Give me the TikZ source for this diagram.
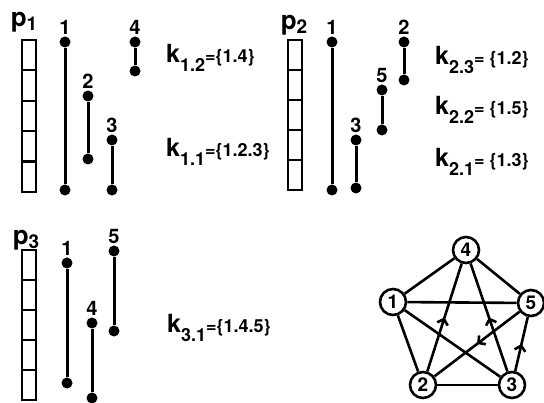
\documentclass[tikz,border=0pt]{standalone}
\usepackage{fontspec}
\setmainfont{TeX Gyre Heros}
\usetikzlibrary{arrows.meta,decorations.markings}
\newcommand\vseg[5]{%
  \node[dot] (#1t) at (#2,#3) {};
  \node[dot] (#1b) at (#2,#4) {};
  \draw[seg] (#1t) -- (#1b);
  \node[num,anchor=south] (#1l) at (#1t.north) {#5};}
\newcommand\klab[3][]{\bfseries{\fontsize{25pt}{25pt}\selectfont k}\raisebox{-9pt}{\fontsize{18pt}{18pt}\selectfont #2}{\fontsize{18pt}{18pt}\selectfont =#1\{#3\}}}
\newcommand\plab[1]{\bfseries{\fontsize{26pt}{26pt}\selectfont p}\raisebox{-4pt}{\fontsize{19pt}{19pt}\selectfont #1}}
\newcommand\memcol[3]{% x, ytop, ybottom
  \draw[mem] (#1,#2) rectangle (#1+14,#3);
  \foreach \i in {1,...,4} {\draw[mem] (#1,{#2+\i*(#3-#2)/5}) -- (#1+14,{#2+\i*(#3-#2)/5});}}
\begin{document}
\begin{tikzpicture}[x=1pt,y=-1pt,
  dot/.style={circle,fill=black,inner sep=0pt,minimum size=11pt},
  seg/.style={line width=3pt},
  num/.style={font=\bfseries\fontsize{20pt}{20pt}\selectfont,inner sep=1.5pt},
  mem/.style={line width=2.2pt},
  gnode/.style={circle,draw,line width=2.6pt,minimum size=26pt,inner sep=0pt,fill=white,font=\bfseries\fontsize{19pt}{19pt}\selectfont},
  gedge/.style={line width=2.6pt},
  midarrow/.style={postaction={decorate},decoration={markings,mark=at position 0.5 with {\arrow{Straight Barb[length=5pt,width=11pt,line width=2.6pt]}}}}]
\useasboundingbox (0,0) rectangle (544,403);
% ---------- p1 ----------
\node[anchor=base] (p1) at (24,27) {\plab{1}};
\memcol{22}{40}{192}
\vseg{aa}{65}{42}{190}{1}
\vseg{ab}{88}{96}{159}{2}
\vseg{ac}{112}{140}{190}{3}
\vseg{ad}{135}{42}{71}{4}
\node[anchor=base west,inner sep=0pt] (k12) at (166,63) {\klab{1.2}{1.4}};
\node[anchor=base west,inner sep=0pt] (k11) at (166,157) {\klab{1.1}{1.2.3}};
% ---------- p2 ----------
\node[anchor=base] (p2) at (294,30) {\plab{2}};
\memcol{288}{40}{190}
\vseg{ba}{332}{42}{190}{1}
\vseg{bb}{356}{140}{188}{3}
\vseg{bc}{382}{90}{130}{5}
\vseg{bd}{404}{42}{80}{2}
\node[anchor=base west,inner sep=0pt] (k23) at (435,65) {\klab[\ ]{2.3}{1.2}};
\node[anchor=base west,inner sep=0pt] (k22) at (435,115) {\klab[\ ]{2.2}{1.5}};
\node[anchor=base west,inner sep=0pt] (k21) at (435,167) {\klab[\ ]{2.1}{1.3}};
% ---------- p3 ----------
\node[anchor=base] (p3) at (26,245) {\plab{3}};
\memcol{22}{250}{400}
\vseg{ca}{67}{263}{383}{1}
\vseg{cb}{92}{323}{398}{4}
\vseg{cc}{114}{251}{331}{5}
\node[anchor=base west,inner sep=0pt] (k31) at (167,333) {\klab{3.1}{1.4.5}};
% ---------- graph ----------
\node[gnode] (g4) at (466,250) {4};
\node[gnode] (g1) at (393,302) {1};
\node[gnode] (g5) at (531,303) {5};
\node[gnode] (g2) at (423,385) {2};
\node[gnode] (g3) at (512,385) {3};
\draw[gedge] (g1) -- (g4);
\draw[gedge] (g4) -- (g5);
\draw[gedge] (g1) -- (g5);
\draw[gedge] (g1) -- (g2);
\draw[gedge] (g1) -- (g3);
\draw[gedge] (g2) -- (g3);
\draw[gedge,midarrow] (g2) -- (g4);
\draw[gedge,midarrow] (g3) -- (g4);
\draw[gedge,midarrow] (g5) -- (g2);
\draw[gedge,midarrow] (g3) -- (g5);
\end{tikzpicture}
\end{document}
